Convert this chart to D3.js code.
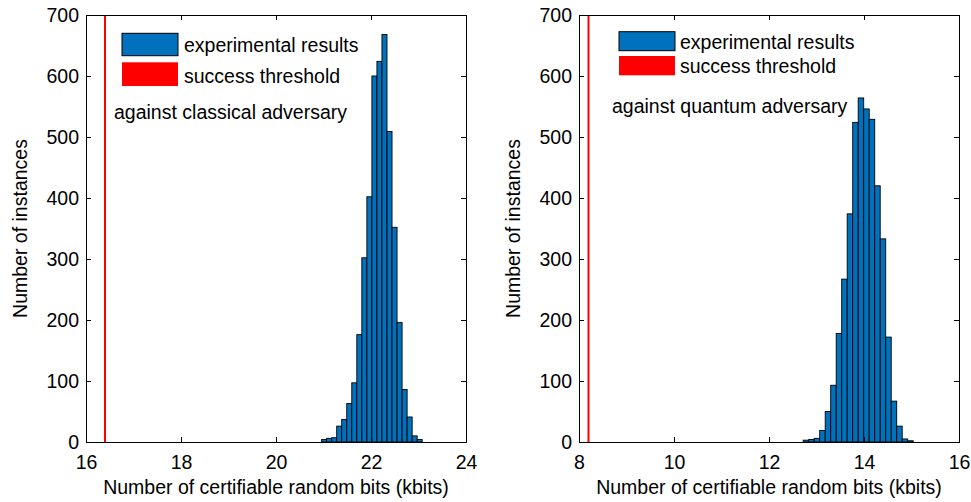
<!DOCTYPE html>
<html>
<head>
<meta charset="utf-8">
<script src="https://cdn.jsdelivr.net/npm/d3@7"></script>
<style>
	body { margin: 0; background: #fff; }
	text { font-family: "Liberation Sans", Arial, Helvetica, sans-serif; fill: #000; }
	.axis path, .axis line { stroke: #000; }
</style>
</head>
<body>
<div id="picture"></div>
<script>
// data
const classicalStart = 20.96
	, classicalWidth = 0.1059
	, classicalCounts = [4, 6, 7, 26, 37, 63, 97, 176, 302, 402, 600, 624, 668, 509, 352, 196, 86, 41, 10, 4]
	, classicalThreshold = 16.4
	, classicalTicks = [16, 18, 20, 22, 24];

const quantumStart = 12.72
	, quantumWidth = 0.1158
	, quantumCounts = [3, 4, 6, 19, 50, 93, 178, 267, 374, 524, 564, 546, 529, 420, 333, 172, 67, 26, 5, 2]
	, quantumThreshold = 8.2
	, quantumTicks = [8, 10, 12, 14, 16];

const yTicks = [0, 100, 200, 300, 400, 500, 600, 700];
const legendLabels = ["experimental results", "success threshold"];

const width = 971, height = 502
	, plotTop = 15, plotBottom = 442, plotW = 380
	, tickLen = 5
	, fontSize = 19.5;

const svg = d3.select("#picture")
	.append("svg")
		.attr("width", width)
		.attr("height", height);

const panels = [
	{ left: 86, start: classicalStart, bw: classicalWidth, counts: classicalCounts,
	  thr: classicalThreshold, ticks: classicalTicks, note: "against classical adversary",
	  legX: 122, sw: [[33.3, 22.4], [62.3, 23.7]], base: [52.3, 82.7], textX: 184,
	  noteX: 114, noteY: 119, yLabX: 27 },
	{ left: 579, start: quantumStart, bw: quantumWidth, counts: quantumCounts,
	  thr: quantumThreshold, ticks: quantumTicks, note: "against quantum adversary",
	  legX: 619, sw: [[31.7, 19], [56, 19.3]], base: [49, 73.3], textX: 680,
	  noteX: 612, noteY: 113.3, yLabX: 520 }
];

panels.forEach(p => {
	const x = d3.scaleLinear()
		.domain([p.ticks[0], p.ticks[p.ticks.length - 1]])
		.range([p.left, p.left + plotW]);
	const y = d3.scaleLinear()
		.domain([0, 700])
		.range([plotBottom, plotTop]);

	const g = svg.append("g");

	// bars
	g.selectAll("rect.bar")
		.data(p.counts)
		.join("rect")
			.attr("class", "bar")
			.attr("x", (d, i) => x(p.start + i * p.bw))
			.attr("width", x(p.start + p.bw) - x(p.start))
			.attr("y", d => y(d))
			.attr("height", d => y(0) - y(d))
			.attr("fill", "#0072BD")
			.attr("stroke", "#000")
			.attr("stroke-width", 0.9);

	// threshold
	g.append("line")
		.attr("x1", x(p.thr)).attr("x2", x(p.thr))
		.attr("y1", y(0)).attr("y2", y(700))
		.attr("stroke", "#ff0000")
		.attr("stroke-width", 2);

	// axes (inside ticks, box)
	const fmt = d3.format("d");
	g.append("g")
		.attr("class", "axis")
		.attr("transform", "translate(0," + plotBottom + ")")
		.call(d3.axisBottom(x).tickValues(p.ticks).tickSize(-tickLen).tickPadding(13).tickFormat(fmt))
		.call(a => a.selectAll("text").attr("font-size", fontSize).attr("dy", "0.71em"));
	g.append("g")
		.attr("class", "axis")
		.attr("transform", "translate(0," + plotTop + ")")
		.call(d3.axisTop(x).tickValues(p.ticks).tickSize(-tickLen).tickFormat(""));
	g.append("g")
		.attr("class", "axis")
		.attr("transform", "translate(" + p.left + ",0)")
		.call(d3.axisLeft(y).tickValues(yTicks).tickSize(-tickLen).tickPadding(7).tickFormat(fmt))
		.call(a => a.selectAll("text").attr("font-size", fontSize));
	g.append("g")
		.attr("class", "axis")
		.attr("transform", "translate(" + (p.left + plotW) + ",0)")
		.call(d3.axisRight(y).tickValues(yTicks).tickSize(-tickLen).tickFormat(""));
	g.selectAll(".axis path").attr("stroke-width", 1);

	// axis labels
	g.append("text")
		.attr("x", p.left + plotW / 2)
		.attr("y", 494)
		.attr("text-anchor", "middle")
		.attr("font-size", fontSize)
		.text("Number of certifiable random bits (kbits)");
	g.append("text")
		.attr("transform", "translate(" + p.yLabX + "," + ((plotTop + plotBottom) / 2) + ") rotate(-90)")
		.attr("text-anchor", "middle")
		.attr("font-size", fontSize)
		.text("Number of instances");

	// legend
	const colors = ["#0072BD", "#ff0000"];
	legendLabels.forEach((lab, i) => {
		g.append("rect")
			.attr("x", p.legX)
			.attr("y", p.sw[i][0])
			.attr("width", 56)
			.attr("height", p.sw[i][1])
			.attr("fill", colors[i])
			.attr("stroke", i === 0 ? "#000" : "none")
			.attr("stroke-width", 1);
		g.append("text")
			.attr("x", p.textX)
			.attr("y", p.base[i])
			.attr("font-size", fontSize)
			.text(lab);
	});
	g.append("text")
		.attr("x", p.noteX)
		.attr("y", p.noteY)
		.attr("font-size", fontSize)
		.text(p.note);
});
</script>
</body>
</html>
